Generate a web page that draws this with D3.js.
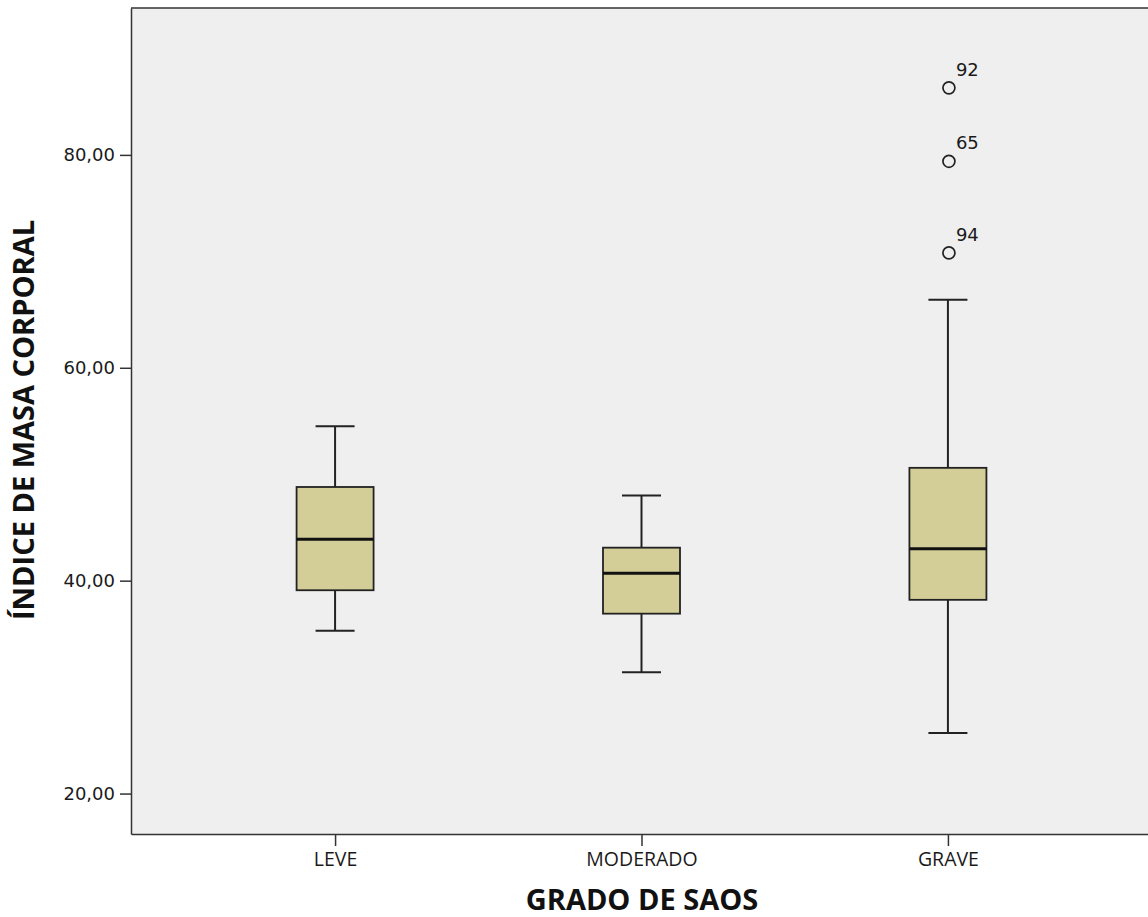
<!DOCTYPE html>
<html>
<head>
<meta charset="utf-8">
<script src="https://cdn.jsdelivr.net/npm/d3@7"></script>
<style>
  html, body { margin: 0; padding: 0; background: #fff; }
  svg { display: block; }
</style>
</head>
<body>
<svg id="chart" width="1148" height="917"></svg>
<script>
// Categories and five-number summaries of body-mass index per SAOS grade
const categories = ["LEVE", "MODERADO", "GRAVE"];
const whiskerLow  = [35.3, 31.4, 25.7];
const quartile1   = [39.1, 36.9, 38.2];
const medians     = [43.9, 40.7, 43.0];
const quartile3   = [48.8, 43.1, 50.6];
const whiskerHigh = [54.5, 48.0, 66.4];

// Outlying cases (case number, value) for the GRAVE group
const outlierGroup  = ["GRAVE", "GRAVE", "GRAVE"];
const outlierValues = [86.3, 79.4, 70.8];
const outlierLabels = ["92", "65", "94"];

const yTicks = [20, 40, 60, 80];

const svg = d3.select("#chart");
const plot = { left: 131, top: 8, right: 1152, bottom: 834 };

const x = d3.scalePoint()
  .domain(categories)
  .range([plot.left, plot.right])
  .padding(0.666);

const y = d3.scaleLinear()
  .domain([16.2, 93.8])
  .range([plot.bottom, plot.top]);

// Plot background
svg.append("rect")
  .attr("x", plot.left).attr("y", plot.top)
  .attr("width", plot.right - plot.left)
  .attr("height", plot.bottom - plot.top)
  .attr("fill", "#efefef");

// Top frame line
svg.append("line")
  .attr("x1", plot.left).attr("x2", plot.right)
  .attr("y1", plot.top).attr("y2", plot.top)
  .attr("stroke", "#333").attr("stroke-width", 1.5);

// Y axis
const fmt = d => d3.format(".2f")(d).replace(".", ",");
const yAxis = svg.append("g")
  .attr("transform", `translate(${plot.left},0)`)
  .call(d3.axisLeft(y).tickValues(yTicks).tickFormat(fmt).tickSize(11).tickPadding(5).tickSizeOuter(0));
yAxis.select(".domain").attr("stroke", "#333").attr("stroke-width", 1.5);
yAxis.selectAll(".tick line").attr("stroke", "#333").attr("stroke-width", 1.5);
yAxis.selectAll(".tick text")
  .attr("font-family", "'DejaVu Sans', Verdana, sans-serif")
  .attr("font-size", 18).attr("fill", "#1a1a1a");

// X axis
const xAxis = svg.append("g")
  .attr("transform", `translate(0,${plot.bottom})`)
  .call(d3.axisBottom(x).tickSize(12).tickPadding(6).tickSizeOuter(0));
xAxis.select(".domain").attr("stroke", "#333").attr("stroke-width", 1.5);
xAxis.selectAll(".tick line").attr("stroke", "#333").attr("stroke-width", 1.5);
xAxis.selectAll(".tick text")
  .attr("font-family", "'Open Sans', sans-serif")
  .attr("font-size", 19.5).attr("fill", "#1a1a1a");

// Boxes
const boxW = 77, capW = 39;
const rows = categories.map((c, i) => ({
  c, lo: whiskerLow[i], q1: quartile1[i], med: medians[i], q3: quartile3[i], hi: whiskerHigh[i]
}));

const g = svg.append("g").selectAll("g").data(rows).join("g");

// Whiskers
g.append("line")
  .attr("x1", d => x(d.c)).attr("x2", d => x(d.c))
  .attr("y1", d => y(d.hi)).attr("y2", d => y(d.q3))
  .attr("stroke", "#222").attr("stroke-width", 2);
g.append("line")
  .attr("x1", d => x(d.c)).attr("x2", d => x(d.c))
  .attr("y1", d => y(d.q1)).attr("y2", d => y(d.lo))
  .attr("stroke", "#222").attr("stroke-width", 2);
// Caps
["hi", "lo"].forEach(k => {
  g.append("line")
    .attr("x1", d => x(d.c) - capW / 2).attr("x2", d => x(d.c) + capW / 2)
    .attr("y1", d => y(d[k])).attr("y2", d => y(d[k]))
    .attr("stroke", "#222").attr("stroke-width", 2);
});
// Box
g.append("rect")
  .attr("x", d => x(d.c) - boxW / 2)
  .attr("y", d => y(d.q3))
  .attr("width", boxW)
  .attr("height", d => y(d.q1) - y(d.q3))
  .attr("fill", "#d3ce97")
  .attr("stroke", "#222").attr("stroke-width", 1.8);
// Median
g.append("line")
  .attr("x1", d => x(d.c) - boxW / 2).attr("x2", d => x(d.c) + boxW / 2)
  .attr("y1", d => y(d.med)).attr("y2", d => y(d.med))
  .attr("stroke", "#111").attr("stroke-width", 3);

// Outliers
const outliers = outlierValues.map((v, i) => ({ c: outlierGroup[i], v, label: outlierLabels[i] }));
const og = svg.append("g").selectAll("g").data(outliers).join("g");
og.append("circle")
  .attr("cx", d => x(d.c) + 1).attr("cy", d => y(d.v))
  .attr("r", 6)
  .attr("fill", "none").attr("stroke", "#222").attr("stroke-width", 1.7);
og.append("text")
  .attr("x", d => x(d.c) + 8).attr("y", d => y(d.v) - 12)
  .attr("font-family", "'DejaVu Sans', Verdana, sans-serif")
  .attr("font-size", 18).attr("fill", "#1a1a1a")
  .text(d => d.label);

// Axis titles
svg.append("text")
  .attr("x", 642).attr("y", 910)
  .attr("text-anchor", "middle")
  .attr("font-family", "'Open Sans', sans-serif")
  .attr("font-weight", "bold")
  .attr("font-size", 29).attr("fill", "#111")
  .text("GRADO DE SAOS");

svg.append("text")
  .attr("transform", "translate(34,420) rotate(-90)")
  .attr("text-anchor", "middle")
  .attr("font-family", "'Open Sans', sans-serif")
  .attr("font-weight", "bold")
  .attr("font-size", 29).attr("fill", "#111")
  .text("ÍNDICE DE MASA CORPORAL");
</script>
</body>
</html>
